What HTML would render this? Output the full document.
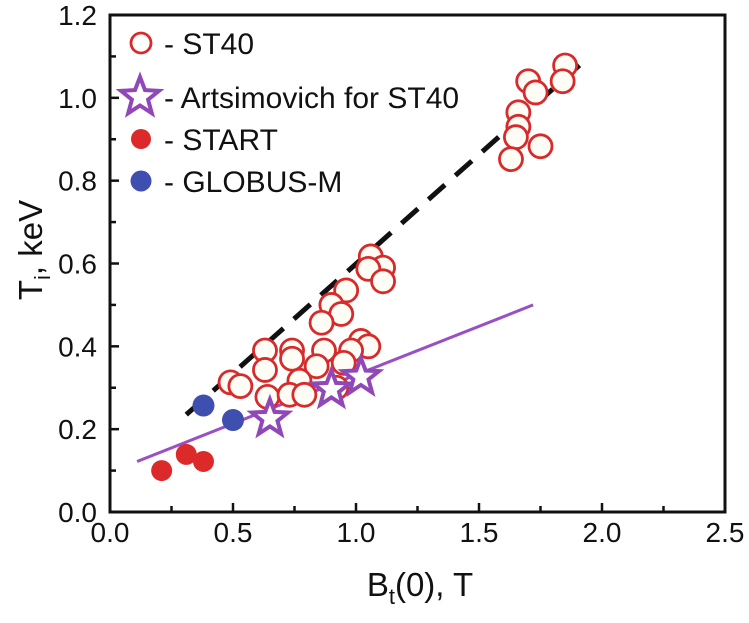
<!DOCTYPE html>
<html><head><meta charset="utf-8"><style>
html,body{margin:0;padding:0;background:#fff;}
svg{display:block;font-family:"Liberation Sans",Arial,sans-serif;}
</style></head><body>
<svg id="chart" width="749" height="623" viewBox="0 0 749 623"></svg>
<script>
const xTicks=[0,0.5,1.0,1.5,2.0,2.5];
const xTickLabels=["0.0","0.5","1.0","1.5","2.0","2.5"];
const yTicks=[0,0.2,0.4,0.6,0.8,1.0,1.2];
const yTickLabels=["0.0","0.2","0.4","0.6","0.8","1.0","1.2"];
const st40X=[1.85,1.84,1.70,1.73,1.66,1.66,1.65,1.75,1.63,1.06,1.11,1.05,1.11,0.96,0.90,0.94,0.86,0.63,0.74,0.87,1.02,1.05,0.98,0.63,0.74,0.84,0.95,0.49,0.53,0.77,0.64,0.73,0.79,0.92];
const st40Y=[1.078,1.04,1.04,1.013,0.965,0.93,0.905,0.883,0.852,0.617,0.59,0.587,0.557,0.535,0.5,0.478,0.457,0.39,0.39,0.39,0.413,0.40,0.39,0.343,0.37,0.352,0.36,0.313,0.304,0.317,0.278,0.283,0.283,0.30];
const artsX=[0.65,0.90,1.02];
const artsY=[0.226,0.296,0.326];
const startX=[0.21,0.31,0.38];
const startY=[0.10,0.139,0.122];
const globusX=[0.38,0.50];
const globusY=[0.257,0.222];
const dashX=[0.31,1.93];
const dashY=[0.235,1.09];
const fitX=[0.11,1.72];
const fitY=[0.122,0.50];

const NS="http://www.w3.org/2000/svg";
const svg=document.getElementById('chart');
const X0=110,X1=725,Y0=512,Y1=15;
function sx(v){return X0+(X1-X0)*v/2.5;}
function sy(v){return Y0-(Y0-Y1)*v/1.2;}
function mk(tag,attrs,parent){const e=document.createElementNS(NS,tag);for(const k in attrs)e.setAttribute(k,attrs[k]);(parent||svg).appendChild(e);return e;}
function starPts(cx,cy,R,r){let p=[];for(let i=0;i<10;i++){const a=-Math.PI/2+i*Math.PI/5;const rr=i%2?r:R;p.push((cx+rr*Math.cos(a)).toFixed(1)+","+(cy+rr*Math.sin(a)).toFixed(1));}return p.join(" ");}

let l=mk('line',{x1:sx(fitX[0]),y1:sy(fitY[0]),x2:sx(fitX[1]),y2:sy(fitY[1]),stroke:'#9b4fc4','stroke-width':3});


let d=mk('line',{x1:sx(dashX[0]),y1:sy(dashY[0]),x2:sx(dashX[1]),y2:sy(dashY[1]),stroke:'#111','stroke-width':5,'stroke-dasharray':'22 14'});



for(let i=0;i<st40X.length;i++){
  const c=mk('circle',{cx:sx(st40X[i]),cy:sy(st40Y[i]),r:11.5,fill:'#fdfdf5',stroke:'#d82a2a','stroke-width':2.8});
  
  
}
for(let i=0;i<startX.length;i++){
  const c=mk('circle',{cx:sx(startX[i]),cy:sy(startY[i]),r:10.5,fill:'#dc2a2a'});
  
  
}
for(let i=0;i<globusX.length;i++){
  const c=mk('circle',{cx:sx(globusX[i]),cy:sy(globusY[i]),r:11,fill:'#3f4fb0'});
  
  
}
for(let i=0;i<artsX.length;i++){
  const s=mk('polygon',{points:starPts(sx(artsX[i]),sy(artsY[i]),19,8),fill:'#fff',stroke:'#9048b8','stroke-width':4,'stroke-linejoin':'miter'});
  
  
}

const fr=mk('rect',{x:X0,y:Y1,width:X1-X0,height:Y0-Y1,fill:'none',stroke:'#111','stroke-width':3});


for(let i=0;i<xTicks.length;i++){
  const x=sx(xTicks[i]);
  mk('line',{x1:x,y1:Y0,x2:x,y2:Y0-9,stroke:'#111','stroke-width':2.5});
  if(i<xTicks.length-1){const xm=sx(xTicks[i]+0.25);mk('line',{x1:xm,y1:Y0,x2:xm,y2:Y0-6,stroke:'#111','stroke-width':2.5});}
  const t=mk('text',{x:x,y:542,'font-size':28,'text-anchor':'middle',fill:'#111'});
  t.textContent=xTickLabels[i];
  
  
}
for(let i=0;i<yTicks.length;i++){
  const y=sy(yTicks[i]);
  mk('line',{x1:X0,y1:y,x2:X0+9,y2:y,stroke:'#111','stroke-width':2.5});
  if(i<yTicks.length-1){const ym=sy(yTicks[i]+0.1);mk('line',{x1:X0,y1:ym,x2:X0+6,y2:ym,stroke:'#111','stroke-width':2.5});}
  const t=mk('text',{x:97,y:y+10,'font-size':28,'text-anchor':'end',fill:'#111'});
  t.textContent=yTickLabels[i];
  
  
}
const xt=mk('text',{x:420,y:596,'font-size':33,'text-anchor':'middle',fill:'#111'});
xt.innerHTML='B<tspan font-size="22" dy="8">t</tspan><tspan dy="-8">(0), T</tspan>';


const yt=mk('text',{x:0,y:0,'font-size':33,'text-anchor':'middle',fill:'#111',transform:'translate(42,250) rotate(-90)'});
yt.innerHTML='T<tspan font-size="22" dy="8">i</tspan><tspan dy="-8">, keV</tspan>';



const lg=mk('g',{});


const ly=[43,97,139,181];
const names=["- ST40","- Artsimovich for ST40","- START","- GLOBUS-M"];
mk('circle',{cx:141,cy:ly[0],r:10,fill:'#fff',stroke:'#d82a2a','stroke-width':2.8},lg);
mk('polygon',{points:starPts(140,ly[1],20,8.5),fill:'#fff',stroke:'#9048b8','stroke-width':4},lg);
mk('circle',{cx:141,cy:ly[2],r:10,fill:'#dc2a2a'},lg);
mk('circle',{cx:141,cy:ly[3],r:10.5,fill:'#3f4fb0'},lg);
for(let i=0;i<4;i++){
  const t=mk('text',{x:164,y:ly[i]+11,'font-size':30,fill:'#111'},lg);
  t.textContent=names[i];
  
  
}
</script>
</body></html>
